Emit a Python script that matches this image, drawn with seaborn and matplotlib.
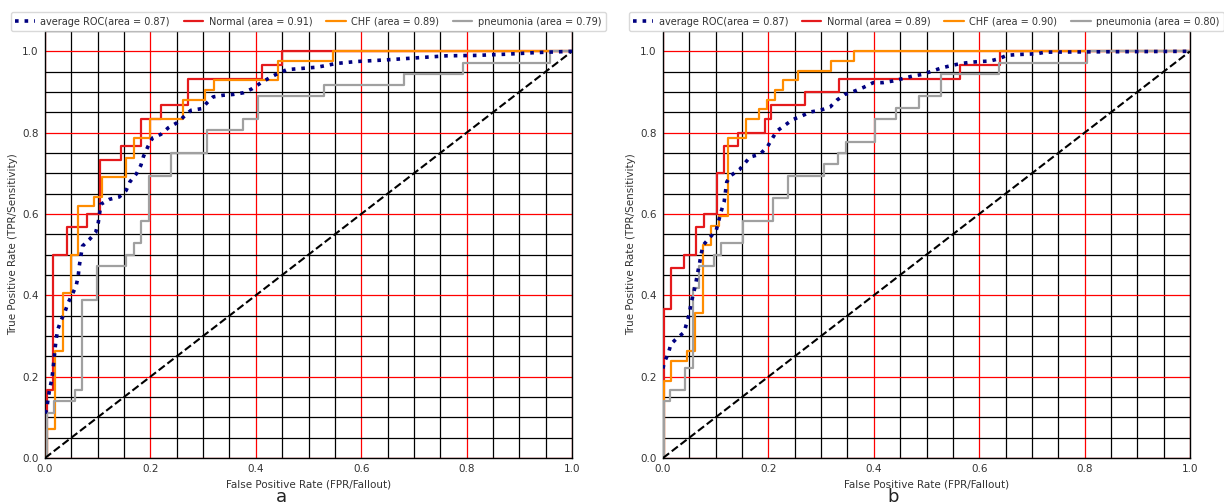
import numpy as np
import pandas as pd
import matplotlib
matplotlib.use("Agg")
import matplotlib.pyplot as plt
import seaborn as sns

sns.set_style("white")
plt.rcParams['font.family'] = ['DejaVu Sans']

# ---------------- data ----------------
# panel a
A_NORMAL_FPR = [0, 0.004, 0.016, 0.041, 0.079, 0.104, 0.144, 0.182, 0.220, 0.271, 0.412, 0.450, 1.0]
A_NORMAL_TPR = [0, 0.167, 0.500, 0.567, 0.600, 0.733, 0.767, 0.833, 0.867, 0.933, 0.967, 1.000, 1.0]

A_CHF_FPR = [0, 0.004, 0.019, 0.034, 0.049, 0.063, 0.093, 0.108, 0.154, 0.169, 0.199, 0.261, 0.303, 0.321, 0.442, 0.547, 1.0]
A_CHF_TPR = [0, 0.071, 0.262, 0.405, 0.500, 0.619, 0.643, 0.690, 0.738, 0.786, 0.833, 0.881, 0.905, 0.929, 0.976, 1.000, 1.0]

A_PNEU_FPR = [0, 0.003, 0.017, 0.057, 0.071, 0.099, 0.154, 0.169, 0.183, 0.198, 0.239, 0.307, 0.376, 0.405, 0.529, 0.682, 0.793, 0.958, 1.0]
A_PNEU_TPR = [0, 0.111, 0.139, 0.167, 0.389, 0.472, 0.500, 0.528, 0.583, 0.694, 0.750, 0.806, 0.833, 0.889, 0.917, 0.944, 0.972, 1.000, 1.0]

A_AVG_FPR = [0.0, 0.003, 0.006, 0.009, 0.013, 0.015, 0.017, 0.019, 0.021, 0.024,
             0.030, 0.038, 0.044, 0.052, 0.059, 0.063, 0.065, 0.068, 0.071, 0.084,
             0.096, 0.101, 0.106, 0.122, 0.141, 0.154, 0.161, 0.174, 0.182, 0.187,
             0.195, 0.204, 0.220, 0.234, 0.250, 0.264, 0.277, 0.297, 0.307, 0.319,
             0.338, 0.357, 0.376, 0.393, 0.409, 0.425, 0.441, 0.459, 0.478, 0.497,
             0.516, 0.533, 0.552, 0.591, 0.648, 0.705, 0.762, 0.819, 0.876, 0.933, 1.0]
A_AVG_TPR = [0.110, 0.118, 0.147, 0.170, 0.194, 0.216, 0.241, 0.268, 0.290, 0.315,
             0.337, 0.360, 0.382, 0.403, 0.423, 0.447, 0.472, 0.496, 0.521, 0.537,
             0.554, 0.578, 0.624, 0.636, 0.642, 0.658, 0.679, 0.700, 0.720, 0.742,
             0.765, 0.787, 0.796, 0.812, 0.824, 0.840, 0.855, 0.859, 0.873, 0.888,
             0.892, 0.894, 0.898, 0.908, 0.922, 0.934, 0.945, 0.955, 0.957, 0.959,
             0.961, 0.965, 0.970, 0.975, 0.979, 0.984, 0.989, 0.990, 0.993, 0.997, 1.0]

A_LABELS = ['average ROC(area = 0.87)', 'Normal (area = 0.91)',
            'CHF (area = 0.89)', 'pneumonia (area = 0.79)']

# panel b
B_NORMAL_FPR = [0, 0.002, 0.015, 0.039, 0.063, 0.078, 0.102, 0.116, 0.142, 0.194, 0.205, 0.269, 0.334, 0.564, 0.639, 1.0]
B_NORMAL_TPR = [0, 0.367, 0.467, 0.500, 0.567, 0.600, 0.700, 0.767, 0.800, 0.833, 0.867, 0.900, 0.933, 0.967, 1.000, 1.0]

B_CHF_FPR = [0, 0.001, 0.016, 0.045, 0.061, 0.076, 0.091, 0.107, 0.123, 0.157, 0.183, 0.197, 0.213, 0.228, 0.257, 0.318, 0.363, 1.0]
B_CHF_TPR = [0, 0.190, 0.238, 0.262, 0.357, 0.524, 0.571, 0.595, 0.786, 0.833, 0.857, 0.881, 0.905, 0.929, 0.952, 0.976, 1.000, 1.0]

B_PNEU_FPR = [0, 0.002, 0.013, 0.042, 0.056, 0.069, 0.097, 0.111, 0.152, 0.209, 0.237, 0.306, 0.333, 0.347, 0.402, 0.443, 0.486, 0.527, 0.638, 0.804, 1.0]
B_PNEU_TPR = [0, 0.139, 0.167, 0.222, 0.417, 0.472, 0.500, 0.528, 0.583, 0.639, 0.694, 0.722, 0.750, 0.778, 0.833, 0.861, 0.889, 0.944, 0.972, 1.000, 1.0]

B_AVG_FPR = [0.0, 0.002, 0.010, 0.015, 0.026, 0.040, 0.050, 0.053, 0.058, 0.062,
             0.065, 0.069, 0.072, 0.076, 0.088, 0.101, 0.110, 0.116, 0.121, 0.129,
             0.145, 0.165, 0.184, 0.198, 0.207, 0.216, 0.231, 0.246, 0.263, 0.280,
             0.298, 0.317, 0.330, 0.345, 0.363, 0.380, 0.399, 0.417, 0.436, 0.455,
             0.473, 0.491, 0.510, 0.528, 0.547, 0.565, 0.583, 0.602, 0.620, 0.638,
             0.652, 0.671, 0.690, 0.709, 0.726, 0.850, 1.0]
B_AVG_TPR = [0.220, 0.234, 0.257, 0.280, 0.294, 0.309, 0.355, 0.380, 0.405, 0.428,
             0.451, 0.476, 0.499, 0.523, 0.541, 0.560, 0.605, 0.630, 0.679, 0.695,
             0.709, 0.740, 0.747, 0.765, 0.785, 0.804, 0.818, 0.832, 0.841, 0.851,
             0.855, 0.863, 0.880, 0.894, 0.902, 0.911, 0.923, 0.923, 0.927, 0.933,
             0.939, 0.943, 0.951, 0.959, 0.965, 0.970, 0.973, 0.975, 0.976, 0.982,
             0.990, 0.992, 0.993, 0.994, 0.998, 0.999, 1.0]

B_LABELS = ['average ROC(area = 0.87)', 'Normal (area = 0.89)',
            'CHF (area = 0.90)', 'pneumonia (area = 0.80)']

DIAG = [0.0, 1.0]
PANEL_LETTERS = ['a', 'b']

# ---------------- styling ----------------
C_AVG = 'navy'
C_NORMAL = '#e41a1c'
C_CHF = '#ff8c00'
C_PNEU = '#a0a0a0'
FS = 7.0

fig = plt.figure(figsize=(12.24, 5.04), dpi=100)
ax_a = fig.add_axes([45 / 1224, 46 / 504, 527 / 1224, 427 / 504])
ax_b = fig.add_axes([663 / 1224, 46 / 504, 527 / 1224, 427 / 504])


def draw_panel(ax, normal, chf, pneu, avg, labels):
    handles = []
    for (fx, ty), color in zip([normal, chf, pneu], [C_NORMAL, C_CHF, C_PNEU]):
        df = pd.DataFrame({'fpr': fx, 'tpr': ty})
        sns.lineplot(data=df, x='fpr', y='tpr', ax=ax, estimator=None, sort=False,
                     color=color, lw=1.6, drawstyle='steps-post', zorder=3)
        handles.append(ax.lines[-1])
    dfa = pd.DataFrame({'fpr': avg[0], 'tpr': avg[1]})
    sns.lineplot(data=dfa, x='fpr', y='tpr', ax=ax, estimator=None, sort=False,
                 color=C_AVG, lw=2.6, linestyle=':', zorder=4)
    h_avg = ax.lines[-1]
    dfd = pd.DataFrame({'fpr': DIAG, 'tpr': DIAG})
    sns.lineplot(data=dfd, x='fpr', y='tpr', ax=ax, estimator=None, sort=False,
                 color='black', lw=1.5, linestyle='--', zorder=3)

    ax.set_xlim(0, 1.0)
    ax.set_ylim(0, 1.05)
    ax.set_xticks(np.arange(0, 1.01, 0.2))
    ax.set_xticks(np.arange(0, 1.001, 0.05), minor=True)
    ax.set_yticks(np.arange(0, 1.01, 0.2))
    ax.set_yticks(np.arange(0, 1.051, 0.05), minor=True)
    ax.set_xticklabels([f'{v:.1f}' for v in np.arange(0, 1.01, 0.2)])
    ax.set_yticklabels([f'{v:.1f}' for v in np.arange(0, 1.01, 0.2)])
    ax.grid(which='major', color='red', lw=0.9)
    ax.grid(which='minor', color='black', lw=0.9)
    ax.set_axisbelow(True)
    ax.tick_params(which='both', labelsize=7.5, length=2.5, color='black',
                   labelcolor='#333333', pad=2)
    for side in ['left', 'bottom', 'right']:
        ax.spines[side].set_color('black')
        ax.spines[side].set_linewidth(1.0)
    ax.spines['top'].set_visible(False)
    ax.set_xlabel('False Positive Rate (FPR/Fallout)', fontsize=7.5, color='#333333', labelpad=4)
    ax.set_ylabel('True Positive Rate (TPR/Sensitivity)', fontsize=7.5, color='#333333', labelpad=3)
    leg = ax.legend([h_avg] + handles, labels, loc='lower center',
                    bbox_to_anchor=(0.5, 1.0), ncol=4, fontsize=FS,
                    frameon=True, handlelength=2.0, handletextpad=0.6,
                    columnspacing=1.4, borderaxespad=0.0, borderpad=0.45)
    for t in leg.get_texts():
        t.set_color('#333333')
    leg.get_frame().set_edgecolor('#d0d0d0')


draw_panel(ax_a, (A_NORMAL_FPR, A_NORMAL_TPR), (A_CHF_FPR, A_CHF_TPR),
           (A_PNEU_FPR, A_PNEU_TPR), (A_AVG_FPR, A_AVG_TPR), A_LABELS)
draw_panel(ax_b, (B_NORMAL_FPR, B_NORMAL_TPR), (B_CHF_FPR, B_CHF_TPR),
           (B_PNEU_FPR, B_PNEU_TPR), (B_AVG_FPR, B_AVG_TPR), B_LABELS)

fig.text(281 / 1224, 1 - 497 / 504, PANEL_LETTERS[0], fontsize=13, ha='center', va='center', color='#222222')
fig.text(893 / 1224, 1 - 497 / 504, PANEL_LETTERS[1], fontsize=13, ha='center', va='center', color='#222222')

fig.savefig('out.png', dpi=100)
